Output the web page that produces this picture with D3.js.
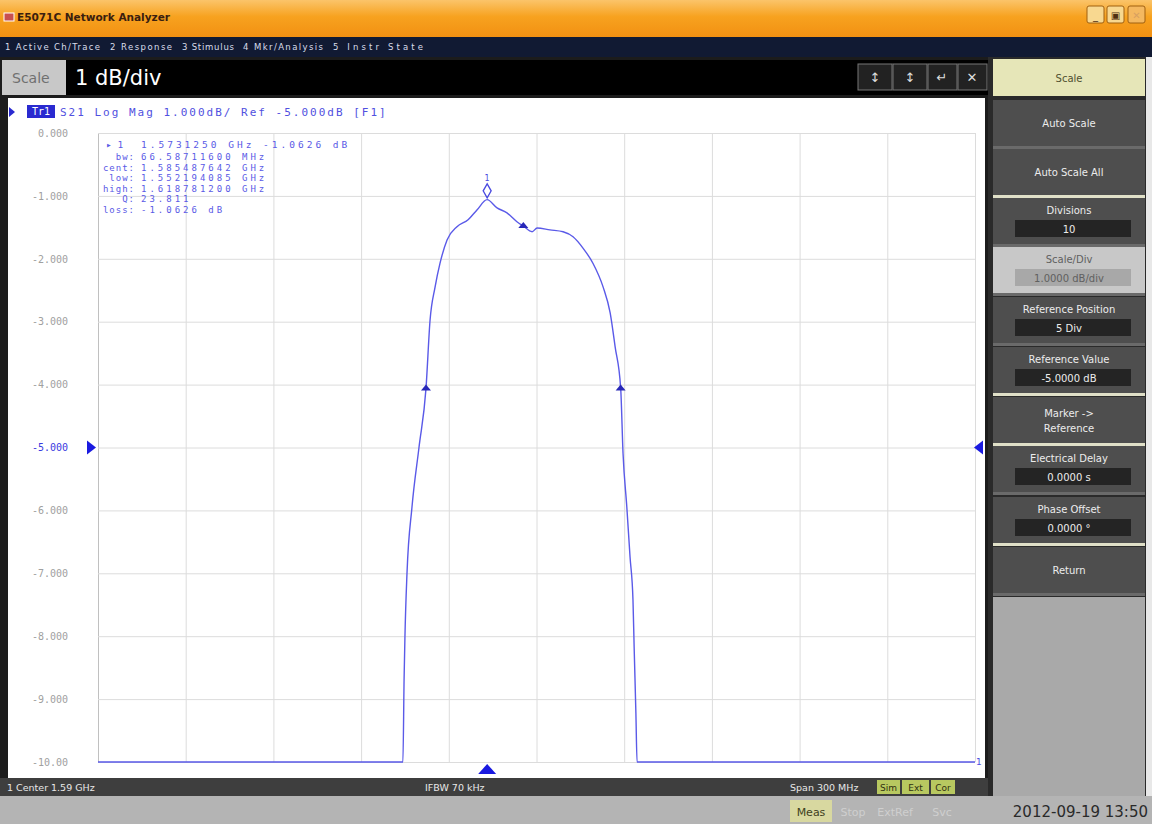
<!DOCTYPE html>
<html>
<head>
<meta charset="utf-8">
<script src="https://cdn.jsdelivr.net/npm/d3@7"></script>
<style>
  body { margin: 0; background: #1c1c1c; }
  svg text { font-family: "DejaVu Sans", sans-serif; }
  svg text.mono { font-family: "DejaVu Sans Mono", monospace; }
</style>
</head>
<body>
<div id="chart"></div>
<script>
const kWidth = 1152;
const kHeight = 824;

// trace S21 (GHz, dB), clipped at the -10 dB floor
const freqGHz = [1.4400, 1.5443, 1.5447, 1.5450, 1.5457, 1.5474, 1.5498, 1.5522, 1.5536, 1.5553,
  1.5570, 1.5594, 1.5628, 1.5666, 1.5697, 1.5731, 1.5765, 1.5799, 1.5833, 1.5855,
  1.5885, 1.5902, 1.5946, 1.5991, 1.6025, 1.6059, 1.6093, 1.6128, 1.6152, 1.6169,
  1.6188, 1.6196, 1.6209, 1.6220, 1.6230, 1.6234, 1.6240, 1.6244, 1.7400];
const s21dB = [-10.0, -10.0, -8.7, -8.0, -7.0, -5.95, -5.0, -4.06, -2.97, -2.45,
  -2.07, -1.70, -1.49, -1.38, -1.22, -1.06, -1.19, -1.27, -1.41, -1.48,
  -1.57, -1.51, -1.54, -1.57, -1.65, -1.83, -2.07, -2.45, -2.86, -3.40,
  -4.06, -5.09, -5.95, -6.74, -7.42, -8.17, -9.22, -10.0, -10.0];

const freqTicks = [1.44, 1.47, 1.50, 1.53, 1.56, 1.59, 1.62, 1.65, 1.68, 1.71, 1.74];
const dbTicks = [0, -1, -2, -3, -4, -5, -6, -7, -8, -9, -10];
const dbTickLabels = ["0.000", "-1.000", "-2.000", "-3.000", "-4.000", "-5.000",
  "-6.000", "-7.000", "-8.000", "-9.000", "-10.00"];

// bandwidth search markers: peak, low, cent, high
const markerFreq = [1.573125, 1.552194, 1.585488, 1.618781];
const markerDb = [-1.0626, -4.0626, -1.48, -4.0626];

const readoutLabels = ["bw:", "cent:", "low:", "high:", "Q:", "loss:"];
const readoutValues = ["66.58711600 MHz", "1.585487642 GHz", "1.552194085 GHz",
  "1.618781200 GHz", "23.811", "-1.0626 dB"];

const menuItems = ["1 Active Ch/Trace", "2 Response", "3 Stimulus", "4 Mkr/Analysis", "5 Instr State"];
const softkeys = [
  ["Auto Scale", null], ["Auto Scale All", null], ["Divisions", "10"],
  ["Scale/Div", "1.0000 dB/div"], ["Reference Position", "5 Div"],
  ["Reference Value", "-5.0000 dB"], ["Marker ->|Reference", null],
  ["Electrical Delay", "0.0000 s"], ["Phase Offset", "0.0000 \u00b0"], ["Return", null]
];

const svg = d3.select("#chart").append("svg")
  .attr("width", kWidth).attr("height", kHeight)
  .style("display", "block");

const defs = svg.append("defs");
const grad = defs.append("linearGradient").attr("id", "titleGrad")
  .attr("x1", 0).attr("y1", 0).attr("x2", 0).attr("y2", 1);
grad.append("stop").attr("offset", "0%").attr("stop-color", "#fbc46a");
grad.append("stop").attr("offset", "45%").attr("stop-color", "#f7a21f");
grad.append("stop").attr("offset", "100%").attr("stop-color", "#f29012");

// ---- window frame ----
svg.append("rect").attr("width", kWidth).attr("height", kHeight).attr("fill", "#1c1c1c");
svg.append("rect").attr("width", kWidth).attr("height", 37).attr("fill", "url(#titleGrad)");
svg.append("rect").attr("x", 4).attr("y", 13).attr("width", 10).attr("height", 8)
  .attr("fill", "#c85050").attr("stroke", "#fff").attr("stroke-width", 1);
svg.append("text").attr("x", 17).attr("y", 21).attr("font-size", 10.5).attr("font-weight", "bold")
  .attr("fill", "#3a2010").text("E5071C Network Analyzer");
[1087, 1107, 1128].forEach((x, i) => {
  svg.append("rect").attr("x", x).attr("y", 6).attr("width", 17).attr("height", 17).attr("rx", 2)
    .attr("fill", i === 2 ? "#f4b860" : "#f8d890").attr("stroke", "#a06010");
  svg.append("text").attr("x", x + 8.5).attr("y", 19).attr("text-anchor", "middle")
    .attr("font-size", 10).attr("fill", i === 2 ? "#d8a060" : "#503010")
    .text(["_", "\u25a3", "\u2715"][i]);
});

svg.append("rect").attr("y", 37).attr("width", kWidth).attr("height", 20).attr("fill", "#111a33");
const menuX = [5, 110, 182, 243, 333];
const menuW = [95, 62, 52, 80, 90];
menuItems.forEach((m, i) => {
  svg.append("text").attr("x", menuX[i]).attr("y", 50).attr("font-size", 8.5)
    .attr("textLength", menuW[i]).attr("lengthAdjust", "spacing")
    .attr("fill", "#d8dcea").text(m);
});

// entry bar
svg.append("rect").attr("x", 2).attr("y", 60).attr("width", 64).attr("height", 35).attr("fill", "#c8c8c8");
svg.append("text").attr("x", 12).attr("y", 83).attr("font-size", 14).attr("fill", "#707070").text("Scale");
svg.append("rect").attr("x", 66).attr("y", 60).attr("width", 922).attr("height", 35).attr("fill", "#000");
svg.append("text").attr("x", 75).attr("y", 85).attr("font-size", 21).attr("fill", "#fff").text("1 dB/div");
[858, 893, 928, 958].forEach((x, i) => {
  svg.append("rect").attr("x", x).attr("y", 64).attr("width", i < 2 ? 34 : 29).attr("height", 26)
    .attr("fill", "#222").attr("stroke", "#777");
  svg.append("text").attr("x", x + (i < 2 ? 17 : 14)).attr("y", 82).attr("text-anchor", "middle")
    .attr("font-size", 13).attr("fill", "#ddd").text(["\u2195", "\u2195", "\u21b5", "\u2715"][i]);
});

// ---- plot panel ----
const plot = { left: 98, right: 975, top: 133, bottom: 762 };
svg.append("rect").attr("x", 8).attr("y", 98).attr("width", 977).attr("height", 680).attr("fill", "#fff");

const xScale = d3.scaleLinear().domain([1.44, 1.74]).range([plot.left, plot.right]);
const yScale = d3.scaleLinear().domain([-10, 0]).range([plot.bottom, plot.top]).clamp(true);

svg.append("g")
  .attr("transform", `translate(0, ${plot.bottom})`)
  .call(d3.axisBottom(xScale).tickValues(freqTicks)
    .tickSize(-(plot.bottom - plot.top)).tickFormat(""))
  .call(g => g.select(".domain").remove())
  .call(g => g.selectAll("line").attr("stroke", (d, i) => i === 0 ? "#c0c0c0" : "#dcdcdc"));

svg.append("g")
  .attr("transform", `translate(${plot.left}, 0)`)
  .call(d3.axisLeft(yScale).tickValues(dbTicks)
    .tickSize(-(plot.right - plot.left)).tickPadding(30)
    .tickFormat((d, i) => dbTickLabels[i]))
  .call(g => g.select(".domain").remove())
  .call(g => g.selectAll("line").attr("stroke", "#dcdcdc"))
  .call(g => g.selectAll("text").attr("class", "mono").attr("font-size", 10)
    .attr("fill", d => d === -5 ? "#3a3ae0" : "#a0a0a0"));

// trace header
svg.append("path").attr("d", "M9,107 L15,112 L9,117 Z").attr("fill", "#2a2ad0");
svg.append("rect").attr("x", 27).attr("y", 105).attr("width", 28).attr("height", 13).attr("fill", "#2a2ad0");
svg.append("text").attr("x", 41).attr("y", 115).attr("text-anchor", "middle").attr("class", "mono")
  .attr("font-size", 10).attr("fill", "#fff").text("Tr1");
svg.append("text").attr("x", 60).attr("y", 116).attr("class", "mono").attr("font-size", 11)
  .attr("letter-spacing", 2).attr("fill", "#5050e0").text("S21 Log Mag 1.000dB/ Ref -5.000dB [F1]");

// reference position arrows
svg.append("path").attr("d", `M87,${yScale(-5) - 7} L96,${yScale(-5)} L87,${yScale(-5) + 7} Z`).attr("fill", "#1a1ae0");
svg.append("path").attr("d", `M983,${yScale(-5) - 7} L974,${yScale(-5)} L983,${yScale(-5) + 7} Z`).attr("fill", "#1a1ae0");

// trace
const pts = freqGHz.map((f, i) => [f, s21dB[i]]);
svg.append("path").datum(pts)
  .attr("d", d3.line().x(d => xScale(d[0])).y(d => yScale(d[1])).curve(d3.curveMonotoneX))
  .attr("fill", "none").attr("stroke", "#5a5ae8").attr("stroke-width", 1.4);

svg.append("text").attr("x", plot.right + 1).attr("y", plot.bottom + 3).attr("font-size", 9)
  .attr("fill", "#5050e0").text("1");

// markers
markerFreq.forEach((f, i) => {
  const x = xScale(f), y = yScale(markerDb[i]);
  if (i === 0) {
    svg.append("path").attr("d", `M${x},${y - 2} L${x - 4},${y - 9} L${x},${y - 16} L${x + 4},${y - 9} Z`)
      .attr("fill", "none").attr("stroke", "#4a4ae0").attr("stroke-width", 1.3);
    svg.append("text").attr("x", x).attr("y", y - 19).attr("text-anchor", "middle")
      .attr("font-size", 8).attr("fill", "#4a4ae0").text("1");
  } else {
    svg.append("path").attr("d", `M${x - 5},${y + 2} L${x},${y - 4} L${x + 5},${y + 2} Z`)
      .attr("fill", "#2828b8");
  }
});
// stimulus marker triangle
const mX = xScale(markerFreq[0]);
svg.append("path").attr("d", `M${mX - 9},${plot.bottom + 12} L${mX},${plot.bottom + 2} L${mX + 9},${plot.bottom + 12} Z`)
  .attr("fill", "#1a1ae0");

// marker readout
const ro = svg.append("g").attr("fill", "#5a5ae6");
ro.append("text").attr("x", 106).attr("y", 148).attr("class", "mono").attr("font-size", 9.5)
  .text("\u25b8 1");
ro.append("text").attr("x", 141).attr("y", 148).attr("class", "mono").attr("font-size", 9.5)
  .attr("letter-spacing", 3).text("1.5731250 GHz -1.0626 dB");
readoutLabels.forEach((l, i) => {
  const y = 160 + i * 10.6;
  ro.append("text").attr("x", 135).attr("y", y).attr("text-anchor", "end")
    .attr("class", "mono").attr("font-size", 9).attr("letter-spacing", 1).text(l);
  ro.append("text").attr("x", 141).attr("y", y).attr("class", "mono").attr("font-size", 9)
    .attr("letter-spacing", 3).text(readoutValues[i]);
});

// ---- status bars ----
svg.append("rect").attr("x", 0).attr("y", 778).attr("width", 988).attr("height", 18).attr("fill", "#3e3e3e");
svg.append("text").attr("x", 7).attr("y", 791).attr("font-size", 9.5).attr("fill", "#e8e8e8").text("1  Center 1.59 GHz");
svg.append("text").attr("x", 425).attr("y", 791).attr("font-size", 9.5).attr("fill", "#e8e8e8").text("IFBW 70 kHz");
svg.append("text").attr("x", 790).attr("y", 791).attr("font-size", 9.5).attr("fill", "#e8e8e8").text("Span 300 MHz");
[["Sim", 877, 23], ["Ext", 902, 27], ["Cor", 931, 24]].forEach(([t, x, w]) => {
  svg.append("rect").attr("x", x).attr("y", 780).attr("width", w).attr("height", 14).attr("fill", "#b8c860");
  svg.append("text").attr("x", x + w / 2).attr("y", 791).attr("text-anchor", "middle")
    .attr("font-size", 9).attr("fill", "#303010").text(t);
});
svg.append("rect").attr("x", 0).attr("y", 796).attr("width", kWidth).attr("height", 28).attr("fill", "#b4b4b4");
svg.append("rect").attr("x", 790).attr("y", 800).attr("width", 42).attr("height", 22).attr("fill", "#d8d8a0");
svg.append("text").attr("x", 811).attr("y", 816).attr("text-anchor", "middle").attr("font-size", 11)
  .attr("fill", "#404020").text("Meas");
[["Stop", 853], ["ExtRef", 895], ["Svc", 942]].forEach(([t, x]) => {
  svg.append("text").attr("x", x).attr("y", 816).attr("text-anchor", "middle").attr("font-size", 11)
    .attr("fill", "#cfcfcf").text(t);
});
svg.append("text").attr("x", 1148).attr("y", 817).attr("text-anchor", "end").attr("font-size", 15)
  .attr("fill", "#2a2a2a").text("2012-09-19 13:50");

// ---- softkey panel ----
svg.append("rect").attr("x", 988).attr("y", 57).attr("width", 164).attr("height", 739).attr("fill", "#2a2a2a");
svg.append("rect").attr("x", 1146).attr("y", 57).attr("width", 6).attr("height", 739).attr("fill", "#e8e8e8");
svg.append("rect").attr("x", 993).attr("y", 59).attr("width", 152).attr("height", 37).attr("fill", "#e6e6b8");
svg.append("text").attr("x", 1069).attr("y", 82).attr("text-anchor", "middle").attr("font-size", 10)
  .attr("fill", "#505030").text("Scale");

const keyTop = [100, 149, 198, 247, 297, 347, 397, 446, 497, 547];
softkeys.forEach(([label, value], i) => {
  const y = keyTop[i];
  const active = i === 3;
  svg.append("rect").attr("x", 993).attr("y", y).attr("width", 152).attr("height", 46)
    .attr("fill", active ? "#c8c8c8" : "#4e4e4e");
  svg.append("rect").attr("x", 993).attr("y", y + 46).attr("width", 152).attr("height", 3)
    .attr("fill", [1, 5, 6, 8].includes(i) ? "#e0e0c8" : "#6a6a6a");
  const lines = label.split("|");
  const tColor = active ? "#606060" : "#ececec";
  if (value === null) {
    lines.forEach((l, k) => {
      svg.append("text").attr("x", 1069).attr("y", y + 27 + (k - (lines.length - 1) / 2) * 15)
        .attr("text-anchor", "middle").attr("font-size", 10).attr("fill", tColor).text(l);
    });
  } else {
    svg.append("text").attr("x", 1069).attr("y", y + 16).attr("text-anchor", "middle")
      .attr("font-size", 10).attr("fill", tColor).text(label);
    svg.append("rect").attr("x", 1015).attr("y", y + 22).attr("width", 116).attr("height", 17)
      .attr("fill", active ? "#a8a8a8" : "#242424");
    svg.append("text").attr("x", 1069).attr("y", y + 35).attr("text-anchor", "middle")
      .attr("font-size", 10).attr("fill", active ? "#606060" : "#ececec").text(value);
  }
});
svg.append("rect").attr("x", 993).attr("y", 597).attr("width", 152).attr("height", 199).attr("fill", "#a9a9a9");
</script>
</body>
</html>
